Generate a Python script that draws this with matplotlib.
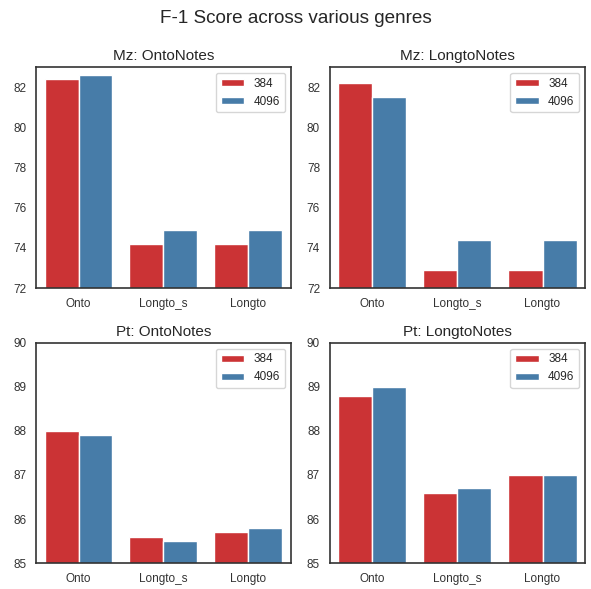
import matplotlib
matplotlib.use("Agg")
import matplotlib.pyplot as plt
import seaborn as sns
import numpy as np
import pandas as pd

sns.set_style("white")
plt.rcParams["font.family"] = ["Liberation Sans", "DejaVu Sans"]

categories = ["Onto", "Longto_s", "Longto"]
hues = ["384", "4096"]
titles = ["Mz: OntoNotes", "Mz: LongtoNotes", "Pt: OntoNotes", "Pt: LongtoNotes"]
mz_onto_384 = [82.4, 74.2, 74.2]
mz_onto_4096 = [82.6, 74.9, 74.9]
mz_longto_384 = [82.2, 72.9, 72.9]
mz_longto_4096 = [81.5, 74.4, 74.4]
pt_onto_384 = [88.0, 85.6, 85.7]
pt_onto_4096 = [87.9, 85.5, 85.8]
pt_longto_384 = [88.8, 86.6, 87.0]
pt_longto_4096 = [89.0, 86.7, 87.0]
ylims = [(72, 83), (72, 83), (85, 90), (85, 90)]

series = [(mz_onto_384, mz_onto_4096), (mz_longto_384, mz_longto_4096),
          (pt_onto_384, pt_onto_4096), (pt_longto_384, pt_longto_4096)]

fig = plt.figure(figsize=(5.91, 5.89), dpi=100)
positions = [
    [0.061, 0.511, 0.431, 0.375],
    [0.558, 0.511, 0.432, 0.375],
    [0.061, 0.044, 0.431, 0.374],
    [0.558, 0.044, 0.432, 0.374],
]
for i, (title, (a, b), yl) in enumerate(zip(titles, series, ylims)):
    ax = fig.add_axes(positions[i])
    df = pd.DataFrame({
        "cat": categories * 2,
        "val": list(a) + list(b),
        "hue": [hues[0]] * 3 + [hues[1]] * 3,
    })
    sns.barplot(data=df, x="cat", y="val", hue="hue", palette="Set1", ax=ax,
                edgecolor="white", linewidth=1)
    ax.set_ylim(*yl)
    if yl == (72, 83):
        ax.set_yticks([72, 74, 76, 78, 80, 82])
    else:
        ax.set_yticks([85, 86, 87, 88, 89, 90])
    ax.set_xlabel("")
    ax.set_ylabel("")
    ax.set_title(title, fontsize=11, pad=5)
    ax.tick_params(labelsize=8.5, colors="#333333")
    for s in ax.spines.values():
        s.set_color("#333333")
        s.set_linewidth(1.2)
    ax.legend(loc="upper right", fontsize=8.5, handleheight=0.55, handlelength=2.0)

fig.suptitle("F-1 Score across various genres", fontsize=13.6, y=0.983)
fig.savefig("out.png", dpi=100)
